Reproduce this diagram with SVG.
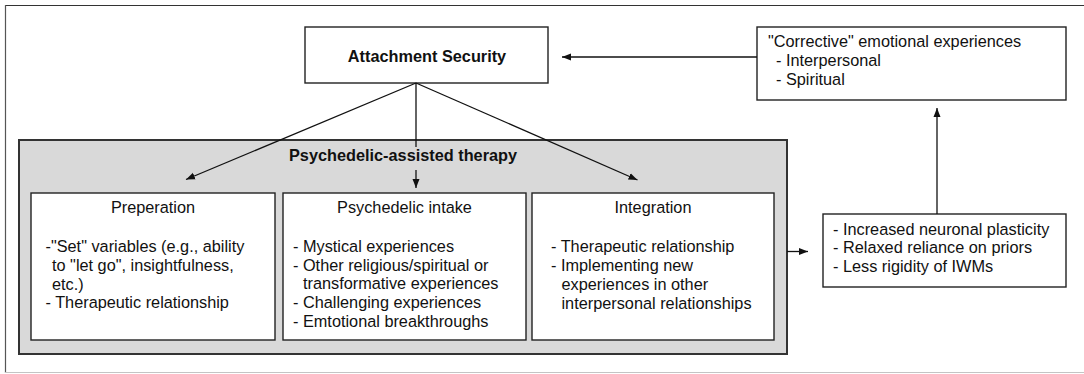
<svg xmlns="http://www.w3.org/2000/svg" width="1084" height="374" viewBox="0 0 1084 374">
  <style>
    text { font-family: "Liberation Sans", Arial, sans-serif; font-size: 16.3px; fill: #111; }
    .bold { font-weight: bold; }
    .mid { text-anchor: middle; }
    .box { fill: #fff; stroke: #222; stroke-width: 1.4; }
    .group { fill: #d9d9d9; stroke: #333; stroke-width: 2; }
    .edge { fill: none; stroke: #111; stroke-width: 1.3; }
    .arrow { marker-end: url(#head); }
  </style>
  <defs>
    <marker id="head" markerUnits="userSpaceOnUse" markerWidth="10" markerHeight="8" refX="9" refY="4" orient="auto">
      <path d="M0,0.5 L9,4 L0,7.5 z" fill="#111"/>
    </marker>
  </defs>

  <!-- page background and frame -->
  <rect x="0" y="0" width="1084" height="374" fill="#fff"/>
  <g id="frame">
    <line x1="5" y1="5.5" x2="1084" y2="5.5" stroke="#333" stroke-width="1.2"/>
    <line x1="5.5" y1="5" x2="5.5" y2="373" stroke="#555" stroke-width="1.2"/>
    <line x1="5" y1="372.5" x2="1084" y2="372.5" stroke="#c4c4c4" stroke-width="1.2"/>
  </g>

  <!-- therapy container -->
  <g id="therapy">
    <rect class="group" x="19" y="140" width="768" height="214"/>
    <text class="bold mid" x="403" y="161">Psychedelic-assisted therapy</text>
  </g>

  <g id="attachment">
    <rect class="box" x="305" y="27" width="243" height="56"/>
    <text class="bold mid" x="427" y="62">Attachment Security</text>
  </g>

  <g id="corrective">
    <rect class="box" x="757" y="27" width="309" height="73"/>
    <text x="768" y="47">"Corrective" emotional experiences</text>
    <text x="776" y="66">- Interpersonal</text>
    <text x="776" y="85">- Spiritual</text>
  </g>

  <g id="preparation">
    <rect class="box" x="31" y="193" width="244" height="147"/>
    <text class="mid" x="153" y="213">Preperation</text>
    <text x="45.5" y="252">-"Set" variables (e.g., ability</text>
    <text x="52" y="271">to "let go", insightfulness,</text>
    <text x="52" y="290">etc.)</text>
    <text x="45.5" y="308">- Therapeutic relationship</text>
  </g>

  <g id="intake">
    <rect class="box" x="283" y="193" width="243" height="147"/>
    <text class="mid" x="404.5" y="213">Psychedelic intake</text>
    <text x="293" y="252">- Mystical experiences</text>
    <text x="293" y="271">- Other religious/spiritual or</text>
    <text x="303" y="289">transformative experiences</text>
    <text x="293" y="308">- Challenging experiences</text>
    <text x="293" y="327">- Emtotional breakthroughs</text>
  </g>

  <g id="integration">
    <rect class="box" x="532" y="193" width="242" height="147"/>
    <text class="mid" x="653" y="213">Integration</text>
    <text x="551" y="252">- Therapeutic relationship</text>
    <text x="551" y="271">- Implementing new</text>
    <text x="561.5" y="290">experiences in other</text>
    <text x="561.5" y="309">interpersonal relationships</text>
  </g>

  <g id="mechanisms">
    <rect class="box" x="823" y="214" width="243" height="73"/>
    <text x="833" y="235">- Increased neuronal plasticity</text>
    <text x="833" y="253">- Relaxed reliance on priors</text>
    <text x="833" y="272">- Less rigidity of IWMs</text>
  </g>

  <!-- connectors -->
  <g id="connectors">
    <line class="edge arrow" x1="416" y1="83" x2="186" y2="179.5"/>
    <line class="edge" x1="416" y1="83" x2="416" y2="147"/>
    <line class="edge arrow" x1="416" y1="170" x2="416" y2="188"/>
    <line class="edge arrow" x1="416" y1="83" x2="637.5" y2="180"/>
    <line class="edge arrow" x1="787" y1="251.5" x2="808" y2="251.5"/>
    <line class="edge arrow" x1="937" y1="214" x2="937" y2="108"/>
    <line class="edge arrow" x1="757" y1="57" x2="562" y2="57"/>
  </g>
</svg>
